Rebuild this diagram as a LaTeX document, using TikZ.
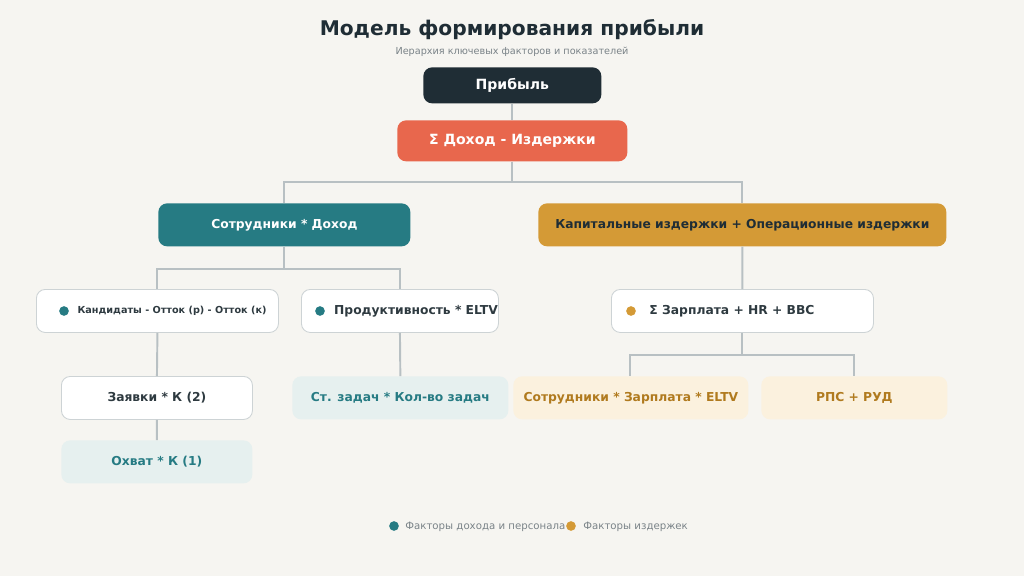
\documentclass[tikz,border=0pt]{standalone}
\usepackage{fontspec}
\setmainfont{DejaVu Sans}
\usetikzlibrary{positioning}
\definecolor{bgc}{HTML}{F6F5F1}
\definecolor{darkc}{HTML}{1F2D35}
\definecolor{redc}{HTML}{E8674D}
\definecolor{tealc}{HTML}{267B83}
\definecolor{goldc}{HTML}{D49A36}
\definecolor{linec}{HTML}{B8C0C3}
\definecolor{lteal}{HTML}{E6F0EF}
\definecolor{lgold}{HTML}{FBF1DE}
\definecolor{txtc}{HTML}{2E3A40}
\definecolor{goldtxt}{HTML}{B07A1E}
\definecolor{grayc}{HTML}{7A8388}
\tikzset{
  box/.style = {rounded corners=5pt, font=\bfseries\fontsize{7}{8}\selectfont,
                inner sep=0pt, anchor=north west},
  white box/.style = {box, fill=white, draw=linec!70, line width=0.5pt, text=txtc},
  label text/.style = {font=\bfseries\fontsize{7}{8}\selectfont, text=txtc, inner sep=0pt},
  link/.style = {draw=linec, line width=1.1pt},
  dot/.style = {circle, inner sep=0pt, minimum size=5.5pt}
}
\begin{document}
\begin{tikzpicture}[x=0.02cm, y=-0.02cm]
\fill[bgc] (0,0) rectangle (1024,576);
\useasboundingbox (0,0) rectangle (1024,576);
% title
\node[font=\bfseries\fontsize{11.5}{13}\selectfont, text=darkc] (title) at (512,30) {Модель формирования прибыли};
\node[font=\fontsize{5.5}{6}\selectfont, text=grayc] (subtitle) at (512,52) {Иерархия ключевых факторов и показателей};
% levels
\node[box, fill=darkc, text=white, minimum width=178*0.02cm, minimum height=36*0.02cm, font=\bfseries\fontsize{8}{9}\selectfont] (profit) at (423,67) {Прибыль};
\node[box, fill=redc, text=white, minimum width=230*0.02cm, minimum height=41*0.02cm, font=\bfseries\fontsize{8}{9}\selectfont] (sum) at (397,120) {Σ Доход - Издержки};
\node[box, fill=tealc, text=white, minimum width=252*0.02cm, minimum height=43*0.02cm] (staff) at (158,203) {Сотрудники * Доход};
\node[box, fill=goldc, text=darkc, minimum width=408*0.02cm, minimum height=43*0.02cm] (costs) at (538,203) {Капитальные издержки + Операционные издержки};
\node[white box, minimum width=242*0.02cm, minimum height=43*0.02cm] (cand) at (36,289) {};
\node[white box, minimum width=197*0.02cm, minimum height=43*0.02cm] (prod) at (301,289) {};
\node[white box, minimum width=262*0.02cm, minimum height=43*0.02cm] (salary) at (611,289) {};
\node[white box, minimum width=191*0.02cm, minimum height=43*0.02cm] (apps) at (61,376) {Заявки * К (2)};
\node[box, fill=lteal, text=tealc, minimum width=216*0.02cm, minimum height=43*0.02cm] (tasks) at (292,376) {Ст. задач * Кол-во задач};
\node[box, fill=lgold, text=goldtxt, minimum width=235*0.02cm, minimum height=43*0.02cm] (staffsal) at (513,376) {Сотрудники * Зарплата * ELTV};
\node[box, fill=lgold, text=goldtxt, minimum width=186*0.02cm, minimum height=43*0.02cm] (rps) at (761,376) {РПС + РУД};
\node[box, fill=lteal, text=tealc, minimum width=191*0.02cm, minimum height=43*0.02cm] (reach) at (61,440) {Охват * К (1)};
% texts and markers of the white boxes
\node[label text, font=\bfseries\fontsize{5.5}{6}\selectfont] (candtext) at (172,311) {Кандидаты - Отток (р) - Отток (к)};
\node[label text] (prodtext) at (416,311) {Продуктивность * ELTV};
\node[label text] (salarytext) at (732,311) {Σ Зарплата + HR + ВВС};
\node[dot, fill=tealc] (d1) at (64,311) {};
\node[dot, fill=tealc] (d2) at (320,311) {};
\node[dot, fill=goldc] (d3) at (631,311) {};
% connectors
\path[link] (profit.south) -- (sum.north);
\path[link] (sum.south) -- ++(0,20) -| (staff.north);
\path[link] (sum.south) ++(0,20) -| (costs.north);
\path[link] (staff.south) -- ++(0,22) -| (cand.north);
\path[link] (staff.south) ++(0,22) -| (prod.north);
\path[link] (costs.south) -- (salary.north);
\path[link] (salary.south) -- ++(0,22) -| (staffsal.north -| 630,0);
\path[link] (salary.south) ++(0,22) -| (rps.north -| 854,0);
\path[link] (cand.south) -- (apps.north);
\path[link] (apps.south) -- (reach.north);
\path[link] (prod.south) -- (tasks.north);
% legend
\node[dot, fill=tealc] (l1) at (394,526) {};
\node[anchor=west, font=\fontsize{5.8}{7}\selectfont, text=grayc, inner sep=0pt] (lt1) at (405,527) {Факторы дохода и персонала};
\node[dot, fill=goldc] (l2) at (571,526) {};
\node[anchor=west, font=\fontsize{5.8}{7}\selectfont, text=grayc, inner sep=0pt] (lt2) at (583,527) {Факторы издержек};
\end{tikzpicture}
\end{document}
